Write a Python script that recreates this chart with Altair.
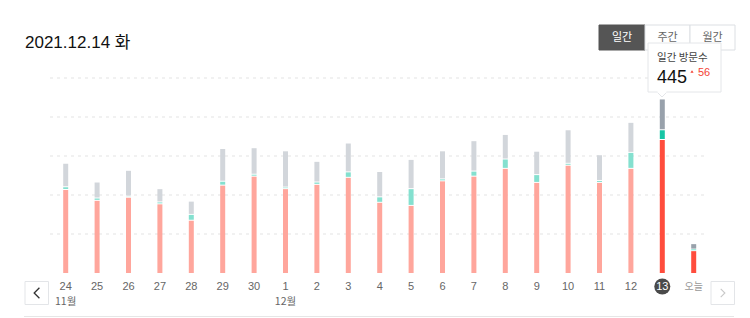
import altair as alt
import pandas as pd

# ---- data ----
labels = ["24", "25", "26", "27", "28", "29", "30", "1", "2", "3", "4", "5",
          "6", "7", "8", "9", "10", "11", "12", "13", "오늘"]
red = [213, 185, 193, 176, 134, 224, 247, 215, 226, 244, 180, 172,
       235, 247, 267, 231, 275, 231, 267, 341, 56]
teal = [7, 6, 3, 5, 15, 10, 5, 4, 6, 14, 14, 43,
        5, 13, 24, 20, 5, 5, 41, 25, 4]
gray = [60, 41, 66, 34, 34, 84, 68, 93, 53, 74, 65, 75,
        72, 78, 63, 60, 86, 66, 77, 79, 14]
highlight = ["13", "오늘"]
selected = "13"
grid_values = [100, 200, 300, 400, 500]
month_labels = ["11월", "12월"]
month_at = ["24", "1"]
title_text = "2021.12.14 화"
buttons = ["일간", "주간", "월간"]
tip_title = "일간 방문수"
tip_value = "445"
tip_delta = "56"

rows = []
for i, (lab, r, t, g) in enumerate(zip(labels, red, teal, gray)):
    hl = lab in highlight
    base = 0
    for seg, v in (("red", r), ("teal", t), ("gray", g)):
        rows.append(dict(i=i, label=lab, seg=seg,
                         key=seg + ("_hl" if hl else ""), y0=base, y1=base + v))
        base += v
df = pd.DataFrame(rows)
lab_df = pd.DataFrame({"i": list(range(len(labels))), "label": labels})
mon_df = pd.DataFrame({"i": [labels.index(m) for m in month_at], "label": month_labels})
grid_df = pd.DataFrame({"g": grid_values})
one = pd.DataFrame({"a": [0]})

FONT = "'Liberation Sans', 'Noto Sans CJK KR', sans-serif"
KFONT = "'Noto Sans CJK KR', 'Liberation Sans', sans-serif"

X = alt.Scale(domain=[0, 20], range=[65.7, 693.7], nice=False, zero=False, padding=0)
Y = alt.Scale(domain=[0, 500], range=[273, 78], nice=False)
cscale = alt.Scale(
    domain=["red", "teal", "gray", "red_hl", "teal_hl", "gray_hl"],
    range=["#ffa69c", "#84e0cf", "#d2d6db", "#ff4d3d", "#17c5a5", "#98a1ab"],
)

grid = alt.Chart(grid_df).mark_rule(color="#e3e3e3", strokeDash=[3, 4], strokeWidth=1).encode(
    y=alt.Y("g:Q", scale=Y, axis=None),
    x=alt.value(50), x2=alt.value(708),
)

enc = dict(
    x=alt.X("i:Q", scale=X, axis=None),
    y=alt.Y("y1:Q", scale=Y, axis=None),
    y2="y0:Q",
    color=alt.Color("key:N", scale=cscale, legend=None),
)
bars_red = alt.Chart(df).transform_filter("datum.seg == 'red'").mark_bar(width=5).encode(**enc)
bars_rest = alt.Chart(df).transform_filter("datum.seg != 'red'").mark_bar(width=5, y2Offset=-1).encode(**enc)

xenc = alt.X("i:Q", scale=X, axis=None)
circle = alt.Chart(lab_df).transform_filter(f"datum.label == '{selected}'").mark_point(
    filled=True, shape="circle", size=256, color="#4a4a4a", opacity=1
).encode(x=xenc, y=alt.value(286.5))
lab_normal = alt.Chart(lab_df).transform_filter(
    f"datum.label != '{selected}' && datum.label != '오늘'"
).mark_text(font=FONT, fontSize=11, color="#666", baseline="middle").encode(
    x=xenc, y=alt.value(287), text="label:N")
lab_sel = alt.Chart(lab_df).transform_filter(f"datum.label == '{selected}'").mark_text(
    font=FONT, fontSize=11, color="white", baseline="middle").encode(
    x=xenc, y=alt.value(287), text="label:N")
lab_today = alt.Chart(lab_df).transform_filter("datum.label == '오늘'").mark_text(
    font=KFONT, fontSize=10, color="#999", baseline="middle").encode(
    x=xenc, y=alt.value(287), text="label:N")
months = alt.Chart(mon_df).mark_text(font=KFONT, fontSize=10.5, color="#666", baseline="middle").encode(
    x=xenc, y=alt.value(302), text="label:N")

title = alt.Chart(one).mark_text(font=FONT, fontSize=17, color="#111", align="left",
                                 baseline="alphabetic").encode(
    x=alt.value(25), y=alt.value(48), text=alt.value(title_text))

# buttons
btn_x = [(599, 645), (645, 690), (690, 735)]
btn_layers = []
for k, (name, (a, b)) in enumerate(zip(buttons, btn_x)):
    active = k == 0
    btn_layers.append(alt.Chart(one).mark_rect(
        fill="#555555" if active else "white",
        stroke="#555555" if active else "#dcdfe3", strokeWidth=1).encode(
        x=alt.value(a), x2=alt.value(b), y=alt.value(25), y2=alt.value(50)))
    btn_layers.append(alt.Chart(one).mark_text(
        font=KFONT, fontSize=11, color="white" if active else "#666", baseline="middle").encode(
        x=alt.value((a + b) / 2), y=alt.value(37.5), text=alt.value(name)))

# tooltip
tip_box = alt.Chart(one).mark_rect(fill="white", stroke="#e4e6e9", strokeWidth=1).encode(
    x=alt.value(648), x2=alt.value(721), y=alt.value(43), y2=alt.value(92))
tip_ptr = alt.Chart(one).mark_point(
    shape="M-1,-0.5L1,-0.5L0,0.5Z", size=100, filled=True, fill="white",
    stroke="#e4e6e9", strokeWidth=1, opacity=1).encode(
    x=alt.value(662), y=alt.value(94.5))
tip_cover = alt.Chart(one).mark_rect(fill="white").encode(
    x=alt.value(657.5), x2=alt.value(666.5), y=alt.value(90.5), y2=alt.value(93))
tip_t1 = alt.Chart(one).mark_text(font=KFONT, fontSize=10.5, color="#444", align="left",
                                  baseline="alphabetic").encode(
    x=alt.value(657), y=alt.value(61), text=alt.value(tip_title))
tip_t2 = alt.Chart(one).mark_text(font=FONT, fontSize=18, color="#111", align="left",
                                  baseline="alphabetic").encode(
    x=alt.value(657), y=alt.value(83), text=alt.value(tip_value))
tip_tri = alt.Chart(one).mark_point(shape="triangle-up", size=10, filled=True,
                                    color="#f44336", opacity=1).encode(
    x=alt.value(692), y=alt.value(71.5))
tip_t3 = alt.Chart(one).mark_text(font=FONT, fontSize=11, color="#f44336", align="left",
                                  baseline="alphabetic").encode(
    x=alt.value(698), y=alt.value(76), text=alt.value(tip_delta))

# nav buttons
nav_l = alt.Chart(one).mark_rect(fill="white", stroke="#e3e5e8").encode(
    x=alt.value(25), x2=alt.value(48.5), y=alt.value(281.5), y2=alt.value(304.5))
nav_l_ch = alt.Chart(one).mark_point(shape="M0.5,-1L-0.5,0L0.5,1", size=110, filled=False,
                                     color="#333", strokeWidth=1.3, opacity=1).encode(
    x=alt.value(36.8), y=alt.value(293))
nav_r = alt.Chart(one).mark_rect(fill="white", stroke="#e3e5e8").encode(
    x=alt.value(711), x2=alt.value(734.5), y=alt.value(281.5), y2=alt.value(304.5))
nav_r_ch = alt.Chart(one).mark_point(shape="M-0.5,-1L0.5,0L-0.5,1", size=70, filled=False,
                                     color="#c8c8c8", strokeWidth=1.1, opacity=1).encode(
    x=alt.value(722.8), y=alt.value(293))
bottom = alt.Chart(one).mark_rule(color="#e6e6e6", strokeWidth=1).encode(
    x=alt.value(24), x2=alt.value(734), y=alt.value(316.5))

chart = alt.layer(
    grid, bars_red, bars_rest, circle, lab_normal, lab_sel, lab_today, months,
    title, *btn_layers, tip_ptr, tip_box, tip_cover, tip_t1, tip_t2, tip_tri, tip_t3,
    nav_l, nav_l_ch, nav_r, nav_r_ch, bottom,
).properties(
    width=750, height=318,
    autosize=alt.AutoSizeParams(type="none"),
    padding=0,
    background="white",
).configure_view(stroke=None)

chart.save("out.html", embed_options={"renderer": "svg", "actions": False})
